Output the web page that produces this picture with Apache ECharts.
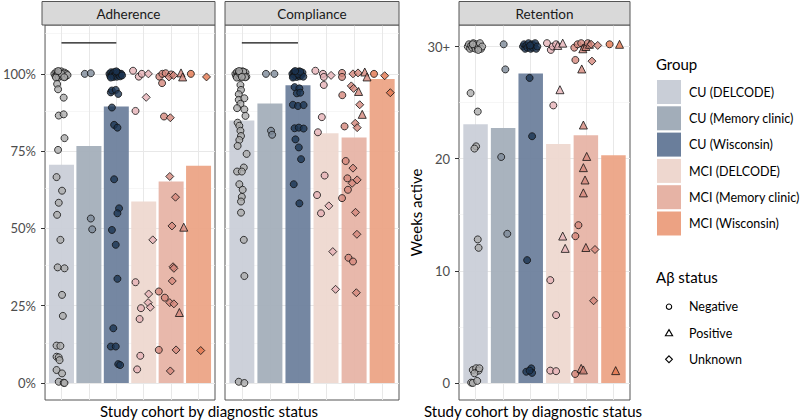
<!DOCTYPE html>
<html><head><meta charset="utf-8">
<script src="https://cdn.jsdelivr.net/npm/echarts@6/dist/echarts.min.js"></script>
<style>html,body{margin:0;padding:0;background:#fff}#c{width:800px;height:420px}</style>
</head><body><div id="c"></div>
<script>
// ---------- data ----------
const groups = ['CU (DELCODE)','CU (Memory clinic)','CU (Wisconsin)','MCI (DELCODE)','MCI (Memory clinic)','MCI (Wisconsin)'];
const panels = ['Adherence','Compliance','Retention'];
const statusNames = ['Negative','Positive','Unknown'];
const xTitle = 'Study cohort by diagnostic status';
const yTitleRetention = 'Weeks active';
const barColors = ['#c9ced7','#a2adb9','#6a7e9b','#eed7cf','#e6b3a5','#eca283'];
const pointColors = ['#ababab','#7d8a98','#1c3452','#e6b2b6','#d4877c','#e2764e'];

const adherenceBars = [0.706,0.767,0.894,0.587,0.652,0.703];
const complianceBars = [0.849,0.904,0.963,0.808,0.794,0.983];
const retentionBars = [23.06,22.73,27.6,21.3,22.08,20.3];

const pctTicks = [0,0.25,0.5,0.75,1];
const pctTickLabels = ['0%','25%','50%','75%','100%'];
const pctMinor = [0.125,0.375,0.625,0.875,1.125];
const retTicks = [0,10,20,30];
const retTickLabels = ['0','10','20','30+'];
const retMinor = [5,15,25];
const sigLine = [[1,1.1],[3,1.1]];

// points: [jitter offset from category, value, status index]
const adhCUDel = [[-0.26,1.0,0],[-0.22,0.993,0],[-0.19,1.006,0],[-0.16,0.997,0],[-0.13,1.003,0],[-0.1,0.99,0],[-0.07,1.005,0],[-0.04,0.996,0],[-0.01,1.008,0],[0.02,0.992,0],[0.05,1.0,0],[0.08,0.995,0],[0.11,1.004,0],[0.14,0.991,0],[0.18,1.0,0],[0.22,0.996,0],[-0.2,0.988,0],[0.0,1.0,0],[-0.12,1.009,0],[0.1,0.989,0],
 [-0.16,0.967,0],[-0.125,0.95,0],[0.08,0.923,0],[-0.1,0.865,0],[0.08,0.869,0],[0.11,0.792,0],[-0.125,0.754,0],[-0.18,0.666,0],[0.02,0.622,0],[-0.1,0.583,0],[-0.16,0.544,0],[-0.04,0.463,0],[-0.14,0.374,0],[0.11,0.371,0],[0.02,0.285,0],[0.05,0.217,0],[-0.18,0.121,0],[-0.04,0.12,0],[-0.18,0.085,0],[-0.1,0.083,0],[-0.07,0.074,0],[-0.18,0.042,0],[0.02,0.031,0],[-0.1,0.004,0],[0.08,0.001,0],[0.11,0.0,0]];
const adhCUMem = [[-0.15,1.0,0],[0.07,1.002,0],[0.07,0.532,0],[0.12,0.497,0]];
const adhCUWis = [[-0.25,1.0,0],[-0.22,0.993,0],[-0.19,1.005,0],[-0.16,0.996,0],[-0.13,1.002,0],[-0.1,0.99,0],[-0.07,1.006,0],[-0.04,0.995,0],[-0.01,1.0,0],[0.02,0.991,0],[0.05,1.004,0],[0.08,0.997,0],[0.11,1.001,0],[0.14,0.992,0],[0.18,1.0,0],[0.21,0.995,0],[-0.2,0.988,0],[0.0,1.008,0],
 [-0.2,0.94,0],[-0.16,0.946,0],[-0.02,0.948,0],[0.07,0.935,0],[-0.16,0.891,0],[-0.08,0.835,0],[0.04,0.826,0],[-0.08,0.659,0],[0.1,0.565,0],[0.04,0.549,0],[-0.16,0.495,0],[-0.02,0.447,0],[0.04,0.337,0],[-0.11,0.177,0],[-0.2,0.118,0],[-0.02,0.118,0],[0.07,0.061,0],[0.14,0.058,0]];
const adhMciDel = [[-0.39,1.01,0],[-0.18,0.991,0],[-0.07,1.0,0],[0.17,1.0,2],[0.09,0.924,2],[-0.3,0.88,0],[0.33,0.463,2],[-0.3,0.326,0],[0.18,0.288,2],[0.16,0.26,2],[0.24,0.245,2],[-0.1,0.242,0],[-0.15,0.207,0],[-0.125,0.088,0],[-0.24,0.044,0]];
const adhMciMem = [[-0.43,0.991,0],[-0.32,1.0,0],[-0.2,1.002,0],[0.0,0.998,0],[-0.08,0.99,2],[0.09,0.995,2],[0.36,1.003,1],[0.42,0.99,1],[-0.33,0.97,0],[-0.26,0.862,0],[-0.03,0.858,2],[-0.05,0.668,2],[0.16,0.601,2],[0.03,0.508,2],[0.46,0.504,1],[0.07,0.376,2],[0.1,0.371,2],[0.04,0.33,2],[-0.45,0.296,0],[-0.23,0.276,0],[-0.05,0.26,2],[0.1,0.256,2],[0.3,0.228,1],[-0.45,0.107,0],[0.18,0.107,2],[-0.03,0.039,2]];
const adhMciWis = [[-0.28,1.0,0],[0.29,0.99,2],[0.08,0.105,2]];

const compCUDel = [[-0.23,1.0,0],[-0.2,0.993,0],[-0.17,1.006,0],[-0.14,0.996,0],[-0.11,1.003,0],[-0.08,0.99,0],[-0.05,1.005,0],[-0.02,0.995,0],[0.01,1.008,0],[0.04,0.992,0],[0.07,1.0,0],[0.1,0.996,0],[0.13,1.004,0],[0.16,0.991,0],[-0.18,0.988,0],[-0.06,1.0,0],[0.05,1.007,0],[0.12,0.989,0],[-0.1,1.009,0],[0.0,0.99,0],
 [-0.05,0.964,0],[-0.03,0.948,0],[-0.11,0.934,0],[-0.11,0.916,0],[0.09,0.921,0],[-0.05,0.903,0],[-0.17,0.889,0],[0.09,0.885,0],[0.13,0.864,0],[-0.15,0.842,0],[-0.09,0.832,0],[-0.05,0.816,0],[-0.03,0.799,0],[-0.09,0.786,0],[-0.15,0.767,0],[0.17,0.741,0],[0.07,0.697,0],[-0.17,0.684,0],[0.0,0.684,0],[-0.09,0.643,0],[0.03,0.625,0],[0.0,0.602,0],[-0.03,0.587,0],[-0.03,0.551,0],[0.07,0.463,0],[0.09,0.346,0],[-0.11,0.004,0],[0.09,0.0,0]];
const compCUMem = [[-0.14,1.0,0],[0.16,1.0,0],[0.04,0.816,0],[0.08,0.803,0]];
const compCUWis = [[-0.2,1.0,0],[-0.17,0.992,0],[-0.14,1.006,0],[-0.11,0.996,0],[-0.08,1.003,0],[-0.05,0.99,0],[-0.02,1.005,0],[0.01,0.995,0],[0.04,1.008,0],[0.07,0.992,0],[0.1,1.0,0],[0.13,0.996,0],[0.16,1.004,0],[0.19,0.991,0],[-0.18,0.988,0],[0.0,1.0,0],[0.08,1.007,0],[-0.1,1.009,0],
 [-0.12,0.957,0],[0.05,0.953,0],[-0.04,0.937,0],[0.08,0.939,0],[-0.18,0.9,0],[0.0,0.896,0],[0.2,0.899,0],[-0.12,0.824,0],[0.03,0.826,0],[0.2,0.823,0],[-0.09,0.788,0],[0.03,0.762,0],[0.11,0.724,0],[-0.15,0.643,0],[0.05,0.581,0]];
const compMciDel = [[-0.38,1.01,0],[-0.11,1.0,0],[-0.08,0.99,0],[0.18,0.995,2],[-0.08,0.964,0],[-0.15,0.86,0],[-0.29,0.811,0],[-0.05,0.671,0],[-0.32,0.608,0],[0.1,0.573,2],[-0.18,0.549,0],[0.24,0.425,2],[0.34,0.303,2]];
const compMciMem = [[-0.43,1.003,0],[-0.43,0.99,0],[-0.04,1.0,2],[0.14,1.003,2],[0.38,1.006,1],[0.46,0.99,1],[-0.1,0.961,2],[-0.02,0.953,2],[0.16,0.943,1],[-0.42,0.931,0],[0.2,0.9,2],[0.29,0.869,1],[-0.34,0.83,0],[0.04,0.84,2],[0.11,0.826,2],[-0.3,0.718,0],[-0.04,0.695,2],[-0.24,0.662,0],[0.11,0.657,2],[-0.07,0.646,2],[-0.22,0.625,0],[-0.43,0.598,0],[0.05,0.552,2],[0.1,0.481,2],[-0.2,0.405,0],[-0.04,0.393,0],[0.08,0.292,2]];
const compMciWis = [[-0.29,1.0,0],[0.09,0.994,2],[0.29,0.939,2]];

const retCUDel = [[-0.28,30.0,0],[-0.24,30.2,0],[-0.2,29.8,0],[-0.16,30.1,0],[-0.12,29.9,0],[-0.08,30.3,0],[-0.04,30.0,0],[0.0,29.8,0],[0.04,30.2,0],[0.08,29.9,0],[0.12,30.1,0],[0.16,30.3,0],[0.2,29.8,0],[0.24,30.0,0],[-0.1,30.2,0],[0.1,29.7,0],
 [-0.18,25.85,0],[0.08,24.2,0],[0.02,21.1,0],[-0.04,20.9,0],[0.08,12.8,0],[0.11,12.05,0],[-0.1,1.16,0],[0.02,1.31,0],[0.11,1.1,0],[-0.04,0.86,0],[0.14,1.31,0],[-0.16,0.03,0],[-0.1,0.0,0],[0.06,0.18,0]];
const retCUMem = [[0.02,30.2,0],[0.08,27.96,0],[-0.07,20.15,0],[0.15,13.3,0]];
const retCUWis = [[-0.28,30.0,0],[-0.24,30.2,0],[-0.2,29.8,0],[-0.16,30.1,0],[-0.12,29.9,0],[-0.08,30.3,0],[-0.04,30.0,0],[0.0,29.8,0],[0.04,30.2,0],[0.08,29.9,0],[0.12,30.1,0],[0.16,30.3,0],[0.2,29.8,0],[0.24,30.0,0],[-0.02,30.1,0],
 [-0.04,27.2,0],[0.05,22.0,0],[-0.13,10.95,0],[-0.16,1.0,0],[0.02,1.3,0],[0.05,0.9,0],[-0.04,1.1,0]];
const retMciDel = [[-0.41,30.3,0],[-0.27,29.7,0],[-0.2,30.0,0],[-0.08,30.2,0],[-0.02,30.1,1],[0.16,30.3,1],[0.06,26.15,1],[-0.18,24.75,0],[0.16,13.1,1],[0.25,12.0,1],[-0.29,9.17,0],[-0.08,6.05,0],[-0.29,1.1,0],[-0.08,1.05,0]];
const retMciMem = [[-0.42,29.9,0],[-0.3,30.2,0],[-0.17,30.3,0],[-0.05,29.9,0],[-0.11,29.8,1],[0.0,30.0,1],[0.07,30.3,0],[0.13,30.2,1],[0.19,30.2,2],[0.43,30.1,2],[-0.38,28.8,0],[0.22,28.7,2],[-0.15,28.0,1],[-0.09,23.0,1],[0.03,20.2,1],[-0.09,19.2,1],[-0.03,18.1,1],[-0.09,16.95,1],[-0.27,14.07,0],[-0.38,13.09,0],[0.0,12.08,1],[0.33,11.9,2],[0.28,7.33,2],[-0.39,0.8,0],[-0.17,1.3,1],[-0.09,1.16,1]];
const retMciWis = [[-0.14,30.2,0],[0.22,30.2,1],[0.08,1.1,1]];

// ---------- assembly ----------
const pointSets = [
  [adhCUDel, adhCUMem, adhCUWis, adhMciDel, adhMciMem, adhMciWis],
  [compCUDel, compCUMem, compCUWis, compMciDel, compMciMem, compMciWis],
  [retCUDel, retCUMem, retCUWis, retMciDel, retMciMem, retMciWis]
];
const barSets = [adherenceBars, complianceBars, retentionBars];
const symbols = ['circle','triangle','diamond'];
const symbolSizes = [7, 8, 8];
const FONT = 'Lato';

const gridBoxes = [
  {left:42, top:25, width:173, height:375},
  {left:225, top:25, width:174, height:375},
  {left:459, top:25, width:171, height:375}
];
const yRanges = [[-0.055,1.158],[-0.055,1.158],[-1.52,31.92]];

const grid = gridBoxes.map(b => Object.assign({show:true, borderColor:'#555', borderWidth:1, backgroundColor:'#fff', containLabel:false}, b));
const xAxis = gridBoxes.map((b,i) => ({
  type:'value', gridIndex:i, min:0.4, max:6.6,
  axisLine:{show:false}, axisTick:{show:false}, axisLabel:{show:false}, splitLine:{show:false}
}));
const yAxis = gridBoxes.map((b,i) => {
  const ticks = i < 2 ? pctTicks : retTicks;
  const labels = i < 2 ? pctTickLabels : retTickLabels;
  const showLab = i !== 1;
  return {
    type:'value', gridIndex:i, min:yRanges[i][0], max:yRanges[i][1],
    axisLine:{show:false}, splitLine:{show:false},
    axisTick:{show:showLab, customValues:ticks, length:4, lineStyle:{color:'#333', width:1}},
    axisLabel:{show:showLab, customValues:ticks, margin:9, color:'#4d4d4d', fontSize:13, fontFamily:FONT,
      formatter: v => { const k = ticks.findIndex(t => Math.abs(t - v) < 1e-9); return k >= 0 ? labels[k] : ''; }},
    name: i === 2 ? yTitleRetention : '', nameLocation:'middle', nameGap:22,
    nameTextStyle:{color:'#000', fontSize:15, fontFamily:FONT}
  };
});

const series = [];
gridBoxes.forEach((b,i) => {
  const major = i < 2 ? pctTicks : retTicks;
  const minor = i < 2 ? pctMinor : retMinor;
  const lines = [];
  minor.forEach(v => lines.push({yAxis:v, lineStyle:{color:'#f2f2f2', width:0.7, type:'solid'}}));
  major.forEach(v => lines.push({yAxis:v, lineStyle:{color:'#e8e8e8', width:1, type:'solid'}}));
  groups.forEach((g,k) => lines.push({xAxis:k+1, lineStyle:{color:'#e8e8e8', width:1, type:'solid'}}));
  series.push({
    type:'line', xAxisIndex:i, yAxisIndex:i, data:[], z:1, silent:true,
    markLine:{z:1, silent:true, symbol:['none','none'], label:{show:false}, animation:false,
      lineStyle:{type:'solid'}, emphasis:{disabled:true}, data:lines}
  });
  series.push({
    type:'bar', xAxisIndex:i, yAxisIndex:i, barWidth: i===2 ? 24.5 : 25, z:2, silent:true,
    data: barSets[i].map((v,k) => ({value:[k+1, v], itemStyle:{color:barColors[k], opacity:0.93}}))
  });
  if (i < 2) {
    series.push({
      type:'line', xAxisIndex:i, yAxisIndex:i, data:sigLine, symbol:'none', z:3, silent:true,
      lineStyle:{color:'#111', width:1.3}
    });
  }
  const pts = [];
  pointSets[i].forEach((arr,k) => arr.forEach(p => pts.push({
    value:[k+1+p[0], p[1]], symbol:symbols[p[2]], symbolSize:symbolSizes[p[2]],
    itemStyle:{color:pointColors[k], borderColor:'#111', borderWidth:1}
  })));
  series.push({type:'scatter', xAxisIndex:i, yAxisIndex:i, data:pts, z:4, silent:true});
});

// ---------- strips, titles, legend ----------
const graphic = [];
gridBoxes.forEach((b,i) => {
  graphic.push({type:'rect', shape:{x:b.left, y:1.5, width:b.width, height:23.5},
    style:{fill:'#d9d9d9', stroke:'#555', lineWidth:1}, z:10});
  graphic.push({type:'text', x:b.left + b.width/2, y:13.5, z:11,
    style:{text:panels[i], font:'13.5px '+FONT, fill:'#1a1a1a', align:'center', verticalAlign:'middle', textAlign:'center', textVerticalAlign:'middle'}});
});
[209, 533].forEach(cx => graphic.push({type:'text', x:cx, y:411, z:11,
  style:{text:xTitle, font:'15px '+FONT, fill:'#000', align:'center', verticalAlign:'middle', textAlign:'center', textVerticalAlign:'middle'}}));
graphic.push({type:'text', x:656, y:64, z:11,
  style:{text:'Group', font:'15px '+FONT, fill:'#000', align:'left', verticalAlign:'middle', textAlign:'left', textVerticalAlign:'middle'}});
groups.forEach((g,k) => {
  graphic.push({type:'rect', shape:{x:657, y:80 + k*26.3, width:24, height:24}, style:{fill:barColors[k]}, z:10});
  graphic.push({type:'text', x:689, y:92.3 + k*26.3, z:11,
    style:{text:g, font:'12.5px '+FONT, fill:'#000', align:'left', verticalAlign:'middle', textAlign:'left', textVerticalAlign:'middle'}});
});
graphic.push({type:'text', x:656, y:277, z:11,
  style:{text:'Aβ status', font:'15px '+FONT, fill:'#000', align:'left', verticalAlign:'middle', textAlign:'left', textVerticalAlign:'middle'}});
statusNames.forEach((s,k) => {
  const cy = 306.7 + k*26.3, cx = 669;
  let el;
  if (k === 0) el = {type:'circle', shape:{cx:cx, cy:cy, r:2.7}};
  else if (k === 1) el = {type:'polygon', shape:{points:[[cx,cy-3.4],[cx+3.6,cy+2.8],[cx-3.6,cy+2.8]]}};
  else el = {type:'polygon', shape:{points:[[cx,cy-3.4],[cx+3.4,cy],[cx,cy+3.4],[cx-3.4,cy]]}};
  el.style = {fill:'#fff', stroke:'#000', lineWidth:1.1}; el.z = 10;
  graphic.push(el);
  graphic.push({type:'text', x:689, y:cy, z:11,
    style:{text:s, font:'12.5px '+FONT, fill:'#000', align:'left', verticalAlign:'middle', textAlign:'left', textVerticalAlign:'middle'}});
});

const chart = echarts.init(document.getElementById('c'), null, {renderer:'svg'});
chart.setOption({animation:false, textStyle:{fontFamily:FONT}, grid, xAxis, yAxis, series, graphic});
</script></body></html>
